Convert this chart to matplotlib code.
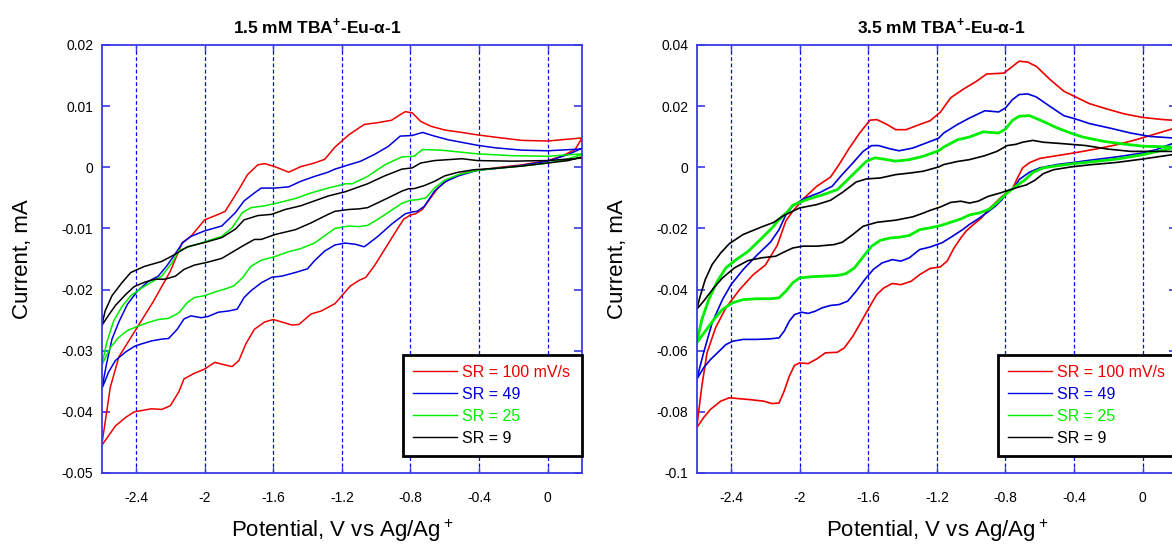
import matplotlib
matplotlib.use("Agg")
import matplotlib.pyplot as plt

plt.rcParams['font.family'] = ['Liberation Sans', 'DejaVu Sans']
plt.rcParams['mathtext.fontset'] = 'custom'
plt.rcParams['mathtext.rm'] = 'Liberation Sans'
plt.rcParams['mathtext.bf'] = 'Liberation Sans:bold'
plt.rcParams['axes.unicode_minus'] = False

# each loop: cathodic sweep 0.2 -> -2.6 V, then anodic sweep back to 0.2 V
# ---- left panel, 1.5 mM ----
left_red_v = [0.2, 0.16, 0.08, 0.0, -0.15, -0.31, -0.41, -0.5, -0.58, -0.64, -0.69, -0.73, -0.77, -0.8, -0.84,
              -0.89, -0.95, -1.01, -1.06, -1.1, -1.15, -1.2, -1.24, -1.32, -1.38, -1.45, -1.49, -1.55, -1.6,
              -1.65, -1.71, -1.76, -1.8, -1.84, -1.9, -1.94, -2.0, -2.06, -2.12, -2.15, -2.2, -2.25, -2.31,
              -2.37, -2.41, -2.46, -2.52, -2.6,
              -2.55, -2.5, -2.4, -2.3, -2.2, -2.13, -2.08, -2.0, -1.92, -1.88, -1.8, -1.75, -1.69, -1.65,
              -1.59, -1.51, -1.44, -1.36, -1.3, -1.24, -1.16, -1.07, -0.99, -0.91, -0.86, -0.83, -0.79, -0.74,
              -0.68, -0.6, -0.5, -0.41, -0.27, -0.15, 0.0, 0.12, 0.2]
left_red_i = [0.0048, 0.0029, 0.0018, 0.0011, 0.0004, -0.0001, -0.0005, -0.001, -0.002, -0.0034, -0.0053,
              -0.0069, -0.0076, -0.0078, -0.0085, -0.0107, -0.0134, -0.0161, -0.018, -0.0185, -0.0194, -0.021,
              -0.0223, -0.0235, -0.024, -0.0257, -0.0258, -0.0253, -0.0249, -0.0253, -0.0265, -0.0289, -0.0316,
              -0.0326, -0.0322, -0.0319, -0.033, -0.0337, -0.0346, -0.0367, -0.039, -0.0396, -0.0395, -0.0398,
              -0.04, -0.0409, -0.0423, -0.0455,
              -0.036, -0.031, -0.0265, -0.022, -0.017, -0.0123, -0.0113, -0.0086, -0.0077, -0.0072, -0.0036,
              -0.0012, 0.0004, 0.0006, 0.0001, -0.0008, 0.0001, 0.0007, 0.0013, 0.0033, 0.0053, 0.007, 0.0073,
              0.0077, 0.0086, 0.0091, 0.0089, 0.0075, 0.0067, 0.0061, 0.0057, 0.0053, 0.0048, 0.0044, 0.0043,
              0.0046, 0.0048]

left_blue_v = [0.2, 0.12, 0.0, -0.15, -0.31, -0.41, -0.52, -0.6, -0.66, -0.72, -0.76, -0.79, -0.83, -0.91,
               -0.99, -1.05, -1.07, -1.12, -1.18, -1.24, -1.3, -1.36, -1.4, -1.47, -1.55, -1.61, -1.67, -1.73,
               -1.77, -1.81, -1.86, -1.92, -1.98, -2.02, -2.08, -2.12, -2.16, -2.21, -2.25, -2.31, -2.37, -2.41,
               -2.46, -2.52, -2.56, -2.6,
               -2.57, -2.54, -2.5, -2.45, -2.39, -2.33, -2.27, -2.22, -2.17, -2.13, -2.08, -2.0, -1.9, -1.82,
               -1.77, -1.71, -1.67, -1.59, -1.51, -1.44, -1.36, -1.28, -1.24, -1.16, -1.09, -1.01, -0.93, -0.86,
               -0.79, -0.73, -0.66, -0.58, -0.41, -0.31, -0.15, 0.0, 0.2]
left_blue_i = [0.0031, 0.0021, 0.001, 0.0003, -0.0002, -0.0005, -0.0014, -0.0024, -0.0039, -0.0064, -0.0072,
               -0.0073, -0.0076, -0.0093, -0.0113, -0.0126, -0.013, -0.0126, -0.0124, -0.0127, -0.0137, -0.0153,
               -0.0166, -0.0172, -0.0178, -0.018, -0.0189, -0.0202, -0.0213, -0.0232, -0.0235, -0.0237, -0.0244,
               -0.0246, -0.0243, -0.0248, -0.0265, -0.028, -0.0281, -0.0284, -0.0289, -0.0293, -0.0302, -0.0316,
               -0.0335, -0.0363,
               -0.0319, -0.0281, -0.0253, -0.0224, -0.0202, -0.0187, -0.0178, -0.0161, -0.0141, -0.0124, -0.0113,
               -0.0104, -0.0096, -0.0074, -0.0055, -0.0042, -0.0034, -0.0034, -0.0032, -0.0023, -0.0015, -0.0008,
               -0.0003, 0.0004, 0.001, 0.0021, 0.0034, 0.0051, 0.0052, 0.0057, 0.0051, 0.0045, 0.0036, 0.0032,
               0.0028, 0.0027, 0.003]

left_green_v = [0.2, 0.12, 0.0, -0.15, -0.31, -0.41, -0.52, -0.6, -0.66, -0.71, -0.76, -0.8, -0.85, -0.93,
                -0.99, -1.05, -1.1, -1.16, -1.24, -1.28, -1.36, -1.44, -1.51, -1.59, -1.67, -1.73, -1.78, -1.83,
                -1.88, -1.94, -2.0, -2.06, -2.1, -2.15, -2.21, -2.27, -2.33, -2.39, -2.45, -2.5, -2.55, -2.6,
                -2.57, -2.53, -2.48, -2.43, -2.37, -2.31, -2.25, -2.19, -2.15, -2.08, -2.0, -1.9, -1.84, -1.78,
                -1.73, -1.65, -1.57, -1.47, -1.38, -1.28, -1.18, -1.14, -1.05, -0.95, -0.85, -0.78, -0.73, -0.62,
                -0.41, -0.21, 0.0, 0.2]
left_green_i = [0.0021, 0.0014, 0.0007, 0.0002, -0.0002, -0.0005, -0.0012, -0.0021, -0.0034, -0.005, -0.0053,
                -0.0054, -0.0059, -0.0074, -0.0085, -0.0095, -0.0097, -0.0096, -0.01, -0.0108, -0.0124, -0.0133,
                -0.0138, -0.0146, -0.0152, -0.0162, -0.0181, -0.0194, -0.0199, -0.0204, -0.021, -0.0213, -0.0221,
                -0.0238, -0.0247, -0.0249, -0.0254, -0.026, -0.0267, -0.0278, -0.0295, -0.0324,
                -0.0286, -0.0251, -0.0227, -0.021, -0.0198, -0.0188, -0.0178, -0.0156, -0.0136, -0.0129, -0.0122,
                -0.0113, -0.0099, -0.0074, -0.0066, -0.0063, -0.0058, -0.0051, -0.0042, -0.0034, -0.0027, -0.0027,
                -0.0015, 0.0004, 0.0017, 0.0018, 0.0029, 0.0028, 0.0022, 0.0019, 0.0018, 0.0022]

left_black_v = [0.2, 0.12, 0.0, -0.15, -0.31, -0.43, -0.52, -0.6, -0.66, -0.72, -0.78, -0.81, -0.85, -0.93,
                -0.99, -1.05, -1.1, -1.16, -1.24, -1.28, -1.38, -1.47, -1.59, -1.67, -1.71, -1.78, -1.84, -1.9,
                -1.98, -2.06, -2.12, -2.17, -2.23, -2.29, -2.35, -2.41, -2.46, -2.52, -2.56, -2.6,
                -2.58, -2.54, -2.48, -2.43, -2.35, -2.25, -2.17, -2.1, -2.0, -1.9, -1.82, -1.77, -1.69, -1.61,
                -1.53, -1.44, -1.36, -1.28, -1.18, -1.14, -1.05, -0.95, -0.85, -0.79, -0.74, -0.66, -0.5, -0.41,
                -0.21, 0.0, 0.2]
left_black_i = [0.0017, 0.0011, 0.0007, 0.0002, -0.0002, -0.0004, -0.0008, -0.0014, -0.0023, -0.003, -0.0035,
                -0.0035, -0.0039, -0.005, -0.0058, -0.0066, -0.0068, -0.0069, -0.0072, -0.0077, -0.0091, -0.0102,
                -0.011, -0.0118, -0.0118, -0.0129, -0.0139, -0.0149, -0.0155, -0.016, -0.0167, -0.0178, -0.0183,
                -0.0183, -0.0188, -0.0195, -0.0208, -0.0226, -0.0242, -0.0259,
                -0.0235, -0.021, -0.0188, -0.0172, -0.0162, -0.0154, -0.0142, -0.013, -0.0123, -0.0115, -0.0101,
                -0.0086, -0.0079, -0.0077, -0.0069, -0.0063, -0.0055, -0.0047, -0.004, -0.0036, -0.0027, -0.0014,
                -0.0003, -0.0001, 0.0007, 0.0011, 0.0014, 0.0011, 0.001, 0.0011, 0.0015]

# ---- right panel, 3.5 mM ----
right_red_v = [0.2, 0.17, 0.08, -0.04, -0.15, -0.27, -0.4, -0.5, -0.6, -0.66, -0.7, -0.73, -0.76, -0.79, -0.82,
               -0.86, -0.9, -0.94, -0.98, -1.03, -1.06, -1.1, -1.14, -1.18, -1.24, -1.3, -1.35, -1.41, -1.46,
               -1.51, -1.55, -1.59, -1.64, -1.69, -1.74, -1.78, -1.85, -1.9, -1.95, -2.0, -2.03, -2.06, -2.09,
               -2.12, -2.16, -2.21, -2.29, -2.35, -2.41, -2.46, -2.52, -2.56, -2.6,
               -2.57, -2.54, -2.49, -2.43, -2.35, -2.27, -2.2, -2.13, -2.08, -2.04, -1.98, -1.9, -1.82, -1.77,
               -1.71, -1.65, -1.59, -1.55, -1.49, -1.44, -1.38, -1.3, -1.24, -1.18, -1.12, -1.05, -0.97, -0.91,
               -0.81, -0.77, -0.72, -0.67, -0.62, -0.54, -0.46, -0.38, -0.31, -0.21, -0.11, 0.0, 0.12, 0.2]
right_red_i = [0.0145, 0.0125, 0.011, 0.009, 0.0074, 0.006, 0.0047, 0.0038, 0.0029, 0.0015, -0.0002, -0.0035,
               -0.0071, -0.0082, -0.0095, -0.0117, -0.0138, -0.0166, -0.0184, -0.0209, -0.0231, -0.0264, -0.0307,
               -0.0326, -0.0331, -0.0351, -0.0373, -0.0384, -0.038, -0.0395, -0.0416, -0.0454, -0.0504, -0.0553,
               -0.0591, -0.0605, -0.0607, -0.0627, -0.0642, -0.064, -0.0648, -0.0683, -0.0732, -0.0771, -0.0773,
               -0.0765, -0.076, -0.0757, -0.0754, -0.0765, -0.0792, -0.0819, -0.0852,
               -0.0716, -0.0607, -0.0525, -0.046, -0.04, -0.0351, -0.032, -0.0255, -0.0175, -0.0144, -0.0104,
               -0.0062, -0.0032, 0.0009, 0.0063, 0.0112, 0.0154, 0.0156, 0.014, 0.0123, 0.0123, 0.014, 0.0152,
               0.018, 0.0227, 0.0254, 0.0281, 0.0305, 0.0308, 0.0325, 0.0347, 0.0344, 0.033, 0.0287, 0.0249,
               0.0227, 0.0208, 0.0191, 0.0175, 0.0163, 0.0156, 0.0153]

right_blue_v = [0.2, 0.17, 0.08, 0.0, -0.15, -0.31, -0.4, -0.5, -0.6, -0.66, -0.72, -0.75, -0.79, -0.82, -0.86,
                -0.91, -0.96, -1.01, -1.05, -1.11, -1.17, -1.24, -1.3, -1.36, -1.41, -1.46, -1.52, -1.57, -1.62,
                -1.67, -1.72, -1.77, -1.82, -1.87, -1.91, -1.95, -1.99, -2.03, -2.06, -2.09, -2.12, -2.17, -2.25,
                -2.33, -2.39, -2.43, -2.47, -2.52, -2.56, -2.6,
                -2.56, -2.51, -2.45, -2.4, -2.33, -2.25, -2.17, -2.12, -2.08, -2.04, -1.98, -1.88, -1.81, -1.76,
                -1.69, -1.63, -1.58, -1.54, -1.47, -1.42, -1.34, -1.26, -1.19, -1.16, -1.08, -1.01, -0.92, -0.84,
                -0.8, -0.76, -0.72, -0.67, -0.62, -0.54, -0.46, -0.38, -0.31, -0.19, -0.07, 0.04, 0.2]
right_blue_i = [0.0085, 0.0077, 0.0058, 0.0047, 0.0034, 0.0023, 0.0016, 0.0009, -0.0002, -0.0016, -0.004,
                -0.0068, -0.0082, -0.0106, -0.0128, -0.0149, -0.0169, -0.0187, -0.0204, -0.0226, -0.0247, -0.0261,
                -0.0269, -0.0296, -0.0307, -0.0302, -0.0313, -0.0334, -0.0367, -0.0405, -0.0438, -0.0449, -0.0452,
                -0.046, -0.0471, -0.0478, -0.0474, -0.0482, -0.0503, -0.0536, -0.0558, -0.0561, -0.0563, -0.0563,
                -0.0569, -0.058, -0.0602, -0.0629, -0.0656, -0.0694,
                -0.0607, -0.0509, -0.0433, -0.0384, -0.0335, -0.0288, -0.0245, -0.0204, -0.0155, -0.0127, -0.0104,
                -0.0082, -0.0062, -0.0029, 0.0014, 0.0052, 0.0071, 0.0071, 0.006, 0.0054, 0.0063, 0.008, 0.0095,
                0.0112, 0.014, 0.0161, 0.0185, 0.0181, 0.0194, 0.0221, 0.0238, 0.024, 0.023, 0.0199, 0.0169,
                0.0156, 0.0143, 0.0128, 0.0112, 0.0101, 0.0095]

right_green_v = [0.2, 0.17, 0.0, -0.15, -0.31, -0.4, -0.5, -0.58, -0.64, -0.69, -0.72, -0.76, -0.8, -0.84,
                 -0.89, -0.95, -1.01, -1.06, -1.12, -1.18, -1.24, -1.3, -1.36, -1.42, -1.47, -1.53, -1.58, -1.63,
                 -1.68, -1.73, -1.78, -1.86, -1.93, -2.0, -2.04, -2.08, -2.12, -2.17, -2.25, -2.33, -2.39, -2.45,
                 -2.5, -2.55, -2.6,
                 -2.57, -2.53, -2.48, -2.43, -2.37, -2.3, -2.23, -2.16, -2.12, -2.07, -2.04, -1.96, -1.86, -1.78,
                 -1.73, -1.67, -1.61, -1.56, -1.49, -1.44, -1.36, -1.28, -1.19, -1.16, -1.08, -1.01, -0.93, -0.84,
                 -0.8, -0.76, -0.72, -0.66, -0.58, -0.5, -0.42, -0.35, -0.23, -0.11, 0.0, 0.2]
right_green_i = [0.0068, 0.0063, 0.0041, 0.0027, 0.0017, 0.0012, 0.0005, -0.0002, -0.0017, -0.0043, -0.0054,
                 -0.0071, -0.0089, -0.0111, -0.0136, -0.0149, -0.0156, -0.0169, -0.018, -0.0191, -0.0198, -0.0204,
                 -0.0223, -0.0229, -0.0231, -0.0239, -0.0258, -0.0293, -0.0329, -0.0348, -0.0354, -0.0356, -0.0358,
                 -0.0362, -0.0378, -0.0405, -0.0427, -0.043, -0.043, -0.0433, -0.0443, -0.0465, -0.0498, -0.0536,
                 -0.0574,
                 -0.0498, -0.0433, -0.0373, -0.0329, -0.0302, -0.0275, -0.0237, -0.0198, -0.0171, -0.0145, -0.0124,
                 -0.0106, -0.0089, -0.0073, -0.0046, -0.0013, 0.002, 0.0031, 0.0025, 0.002, 0.0025, 0.0036, 0.0054,
                 0.0066, 0.009, 0.0099, 0.0116, 0.0112, 0.0125, 0.0153, 0.0167, 0.0169, 0.015, 0.0129, 0.0112,
                 0.0099, 0.0085, 0.0076, 0.0069, 0.0066]

right_black_v = [0.2, 0.17, 0.0, -0.15, -0.31, -0.42, -0.52, -0.58, -0.63, -0.68, -0.72, -0.77, -0.83, -0.9,
                 -0.96, -1.01, -1.06, -1.12, -1.18, -1.24, -1.28, -1.34, -1.44, -1.55, -1.63, -1.69, -1.75, -1.8,
                 -1.9, -1.98, -2.04, -2.09, -2.14, -2.22, -2.3, -2.38, -2.45, -2.5, -2.56, -2.6,
                 -2.58, -2.55, -2.51, -2.46, -2.41, -2.33, -2.23, -2.15, -2.1, -2.06, -2.0, -1.9, -1.82, -1.75,
                 -1.67, -1.61, -1.53, -1.44, -1.36, -1.28, -1.19, -1.16, -1.08, -1.01, -0.92, -0.85, -0.79, -0.74,
                 -0.7, -0.64, -0.58, -0.46, -0.33, -0.21, -0.07, 0.2]
right_black_i = [0.0048, 0.0041, 0.0027, 0.0016, 0.0008, 0.0001, -0.0008, -0.0021, -0.0043, -0.0058, -0.0064,
                 -0.0073, -0.0084, -0.0095, -0.0111, -0.0117, -0.0111, -0.0115, -0.013, -0.0141, -0.015, -0.0162,
                 -0.0173, -0.018, -0.0193, -0.022, -0.0245, -0.0253, -0.0258, -0.0258, -0.0264, -0.0277, -0.0291,
                 -0.0296, -0.0305, -0.0329, -0.0362, -0.0394, -0.0438, -0.0465,
                 -0.0422, -0.0367, -0.0318, -0.028, -0.025, -0.022, -0.0197, -0.018, -0.016, -0.0149, -0.0133,
                 -0.0122, -0.0108, -0.0082, -0.0048, -0.0038, -0.0035, -0.0024, -0.0019, -0.0013, 0.0001, 0.0009,
                 0.0019, 0.0025, 0.0038, 0.0052, 0.0071, 0.0075, 0.0082, 0.0088, 0.0082, 0.0077, 0.0071, 0.006,
                 0.0052, 0.0052]

legend_labels = ['SR = 100 mV/s', 'SR = 49', 'SR = 25', 'SR = 9']
line_colors = ['#ee0000', '#0000dd', '#00ee00', '#000000']

x_ticks = [-2.4, -2.0, -1.6, -1.2, -0.8, -0.4, 0.0]
x_labels = ['-2.4', '-2', '-1.6', '-1.2', '-0.8', '-0.4', '0']
left_yticks = [-0.05, -0.04, -0.03, -0.02, -0.01, 0.0, 0.01, 0.02]
left_ylabels = ['-0.05', '-0.04', '-0.03', '-0.02', '-0.01', '0', '0.01', '0.02']
right_yticks = [-0.1, -0.08, -0.06, -0.04, -0.02, 0.0, 0.02, 0.04]
right_ylabels = ['-0.1', '-0.08', '-0.06', '-0.04', '-0.02', '0', '0.02', '0.04']

frame_blue = '#3a3ae6'

fig = plt.figure(figsize=(11.72, 5.46), dpi=100)
ax1 = fig.add_axes([101.7 / 1172, 73 / 546, 480.3 / 1172, 428 / 546])
ax2 = fig.add_axes([696.7 / 1172, 73 / 546, 480.3 / 1172, 428 / 546])


def setup(ax, yticks, ylabels, title, title_x):
    ax.set_xlim(-2.6, 0.2)
    ax.set_ylim(yticks[0], yticks[-1])
    ax.set_xticks(x_ticks)
    ax.set_xticklabels(x_labels)
    ax.set_yticks(yticks)
    ax.set_yticklabels(ylabels)
    for s in ax.spines.values():
        s.set_color(frame_blue)
        s.set_linewidth(1.3)
    ax.tick_params(axis='y', direction='in', left=True, right=True, length=6, width=1.2,
                   color=frame_blue, labelsize=10, pad=6)
    ax.tick_params(axis='x', direction='in', bottom=True, top=True, length=4, width=1,
                   color=frame_blue, labelsize=10, pad=13)
    ax.grid(axis='x', color='#0000ff', linestyle=(0, (3, 2)), linewidth=0.9)
    ax.set_axisbelow(True)
    ax.set_ylabel('Current, mA', fontsize=16)
    ax.yaxis.set_label_coords(-0.143, 0.5)
    ax.set_xlabel('Potential, V vs Ag/Ag$^+$', fontsize=16)
    ax.xaxis.set_label_coords(0.5, -0.103)
    ax.set_title(title, fontsize=12.5, fontweight='bold', x=title_x, pad=9)


setup(ax1, left_yticks, left_ylabels, r'1.5 mM TBA$^{\mathbf{+}}$-Eu-α-1', 0.45)
setup(ax2, right_yticks, right_ylabels, r'3.5 mM TBA$^{\mathbf{+}}$-Eu-α-1', 0.51)

left_loops = [(left_red_v, left_red_i), (left_blue_v, left_blue_i),
              (left_green_v, left_green_i), (left_black_v, left_black_i)]
right_loops = [(right_red_v, right_red_i), (right_blue_v, right_blue_i),
               (right_green_v, right_green_i), (right_black_v, right_black_i)]
right_widths = [1.2, 1.2, 2.0, 1.2]

for (v, i), c, lab in zip(left_loops, line_colors, legend_labels):
    ax1.plot(v, i, color=c, lw=1.1, label=lab)
for (v, i), c, lab, w in zip(right_loops, line_colors, legend_labels, right_widths):
    ax2.plot(v, i, color=c, lw=w, label=lab)

for ax in (ax1, ax2):
    leg = ax.legend(loc='upper left', bbox_to_anchor=(0.627, 0.276, 0.373, 0), mode='expand',
                    borderaxespad=0, fontsize=11.5, labelcolor='linecolor', handlelength=2.8,
                    handletextpad=0.3, labelspacing=0.44, fancybox=False, edgecolor='black',
                    framealpha=1, borderpad=0.62)
    leg.get_frame().set_linewidth(2)
    for h in leg.get_lines():
        h.set_linewidth(1.0)

fig.savefig('out.png', dpi=100)
